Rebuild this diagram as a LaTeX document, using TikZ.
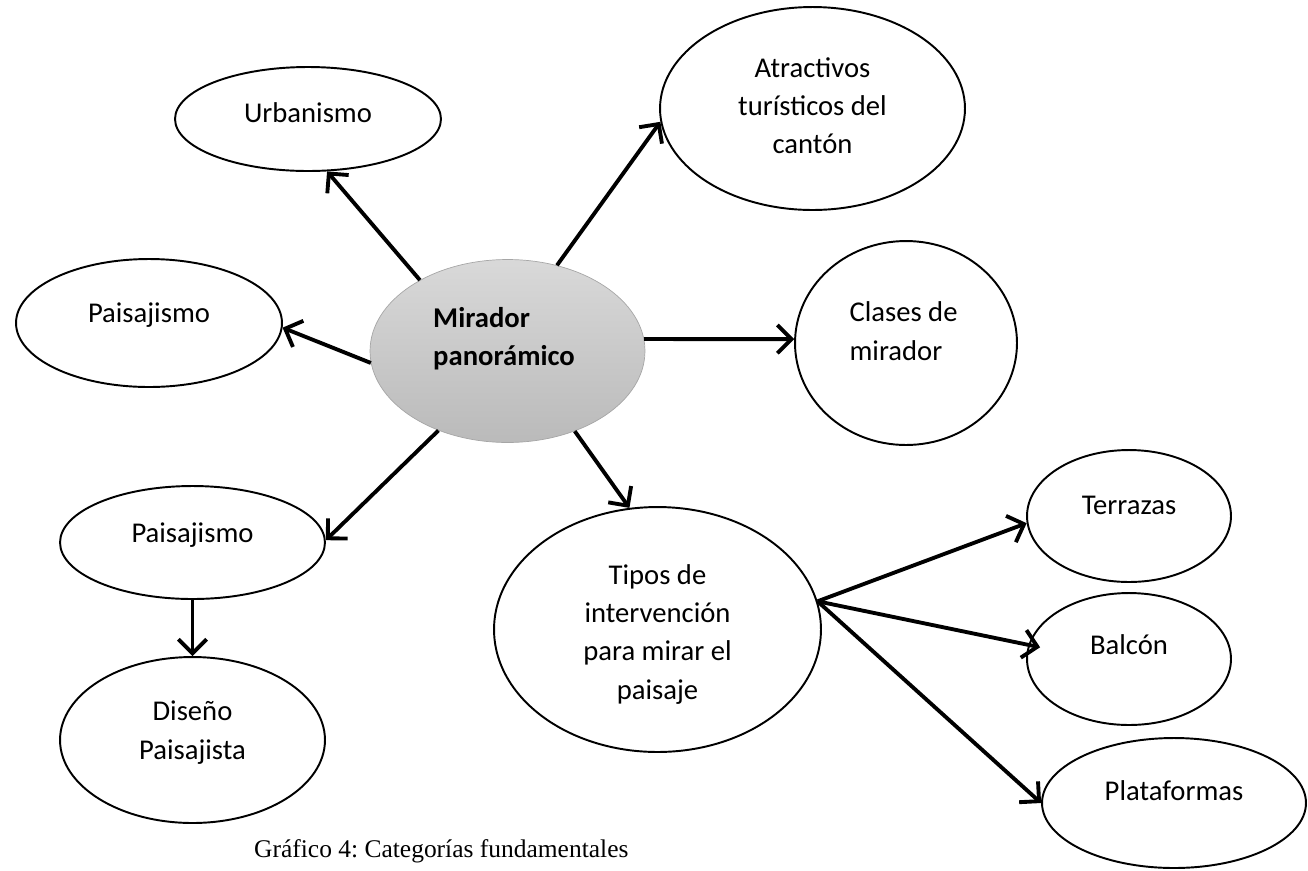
\documentclass[tikz,border=0pt]{standalone}
\usepackage{fontspec}
\setmainfont{Carlito}
\newfontfamily\captionfont{Liberation Serif}
\usetikzlibrary{shapes, positioning, arrows.meta}
\frenchspacing

\begin{document}
\begin{tikzpicture}[x=0.02cm, y=-0.02cm,
    font=\fontsize{16.3}{21.8}\selectfont,
    bubble/.style={ellipse, draw=black, line width=1.1pt, inner sep=0pt},
    hub/.style={ellipse, draw=black!35, thin, top color=black!15, bottom color=black!27, inner sep=0pt},
    arr/.style={line width=2.2pt, -{Straight Barb[length=8pt, width=16pt, line width=0pt 1]}}]
    \useasboundingbox (0,0) rectangle (1308,870);

    \node[hub, minimum width=5.5cm, minimum height=3.66cm, label={[yshift=7.2pt, xshift=-2pt, align=left, font=\fontsize{16.3}{21.8}\selectfont\bfseries]center:Mirador\\panorámico}] (mir) at (507.5,351) {};
    \node[bubble, minimum width=5.32cm, minimum height=2.08cm, label={[yshift=3.4pt]center:Urbanismo}] (urb) at (308,119) {};
    \node[bubble, minimum width=6.1cm, minimum height=4.06cm, label={[yshift=1.6pt, align=center]center:Atractivos\\turísticos del\\cantón}] (atr) at (812.5,108.5) {};
    \node[bubble, minimum width=5.32cm, minimum height=2.56cm, label={[yshift=4.3pt]center:Paisajismo}] (pai1) at (149,323) {};
    \node[bubble, minimum width=4.44cm, minimum height=4.08cm, label={[yshift=6.7pt, xshift=-1.4pt, align=left]center:Clases de\\mirador}] (cla) at (906,343) {};
    \node[bubble, minimum width=5.3cm, minimum height=2.26cm, label={[yshift=4pt]center:Paisajismo}] (pai2) at (192.5,542.5) {};
    \node[bubble, minimum width=5.3cm, minimum height=3.32cm, label={[yshift=4.2pt, align=center]center:Diseño\\Paisajista}] (dis) at (192.5,740) {};
    \node[bubble, minimum width=6.54cm, minimum height=4.9cm, label={[yshift=-2.65pt, align=center]center:Tipos de\\intervención\\para mirar el\\paisaje}] (tip) at (657.5,629.5) {};
    \node[bubble, minimum width=4.08cm, minimum height=2.64cm, label={[yshift=6.2pt]center:Terrazas}] (ter) at (1129,516) {};
    \node[bubble, minimum width=4.08cm, minimum height=2.64cm, label={[yshift=8.1pt]center:Balcón}] (bal) at (1129,659) {};
    \node[bubble, minimum width=5.28cm, minimum height=2.6cm, label={[yshift=6.9pt]center:Plataformas}] (pla) at (1174,803) {};

    \node[anchor=west, font=\captionfont\fontsize{14.5}{17}\selectfont] (cap) at (248,851) {Gráfico 4: Categorías fundamentales};

    \draw[arr] (mir.141) -- (urb.290);
    \draw[arr] (mir.60) -- (atr.185);
    \draw[arr] (mir.185) -- (pai1.358);
    \draw[arr] (mir.5) -- (cla.178);
    \draw[arr] (mir.229) -- (pai2.1);
    \draw[arr] (mir.310) -- (tip.103);
    \draw[arr] (pai2.south) -- (dis.north);
    \draw[arr] (tip.10) -- (ter.184);
    \draw[arr, shorten >=-6.8pt] (tip.10) -- (bal.172);
    \draw[arr] (tip.10) -- (pla.180);
\end{tikzpicture}
\end{document}
